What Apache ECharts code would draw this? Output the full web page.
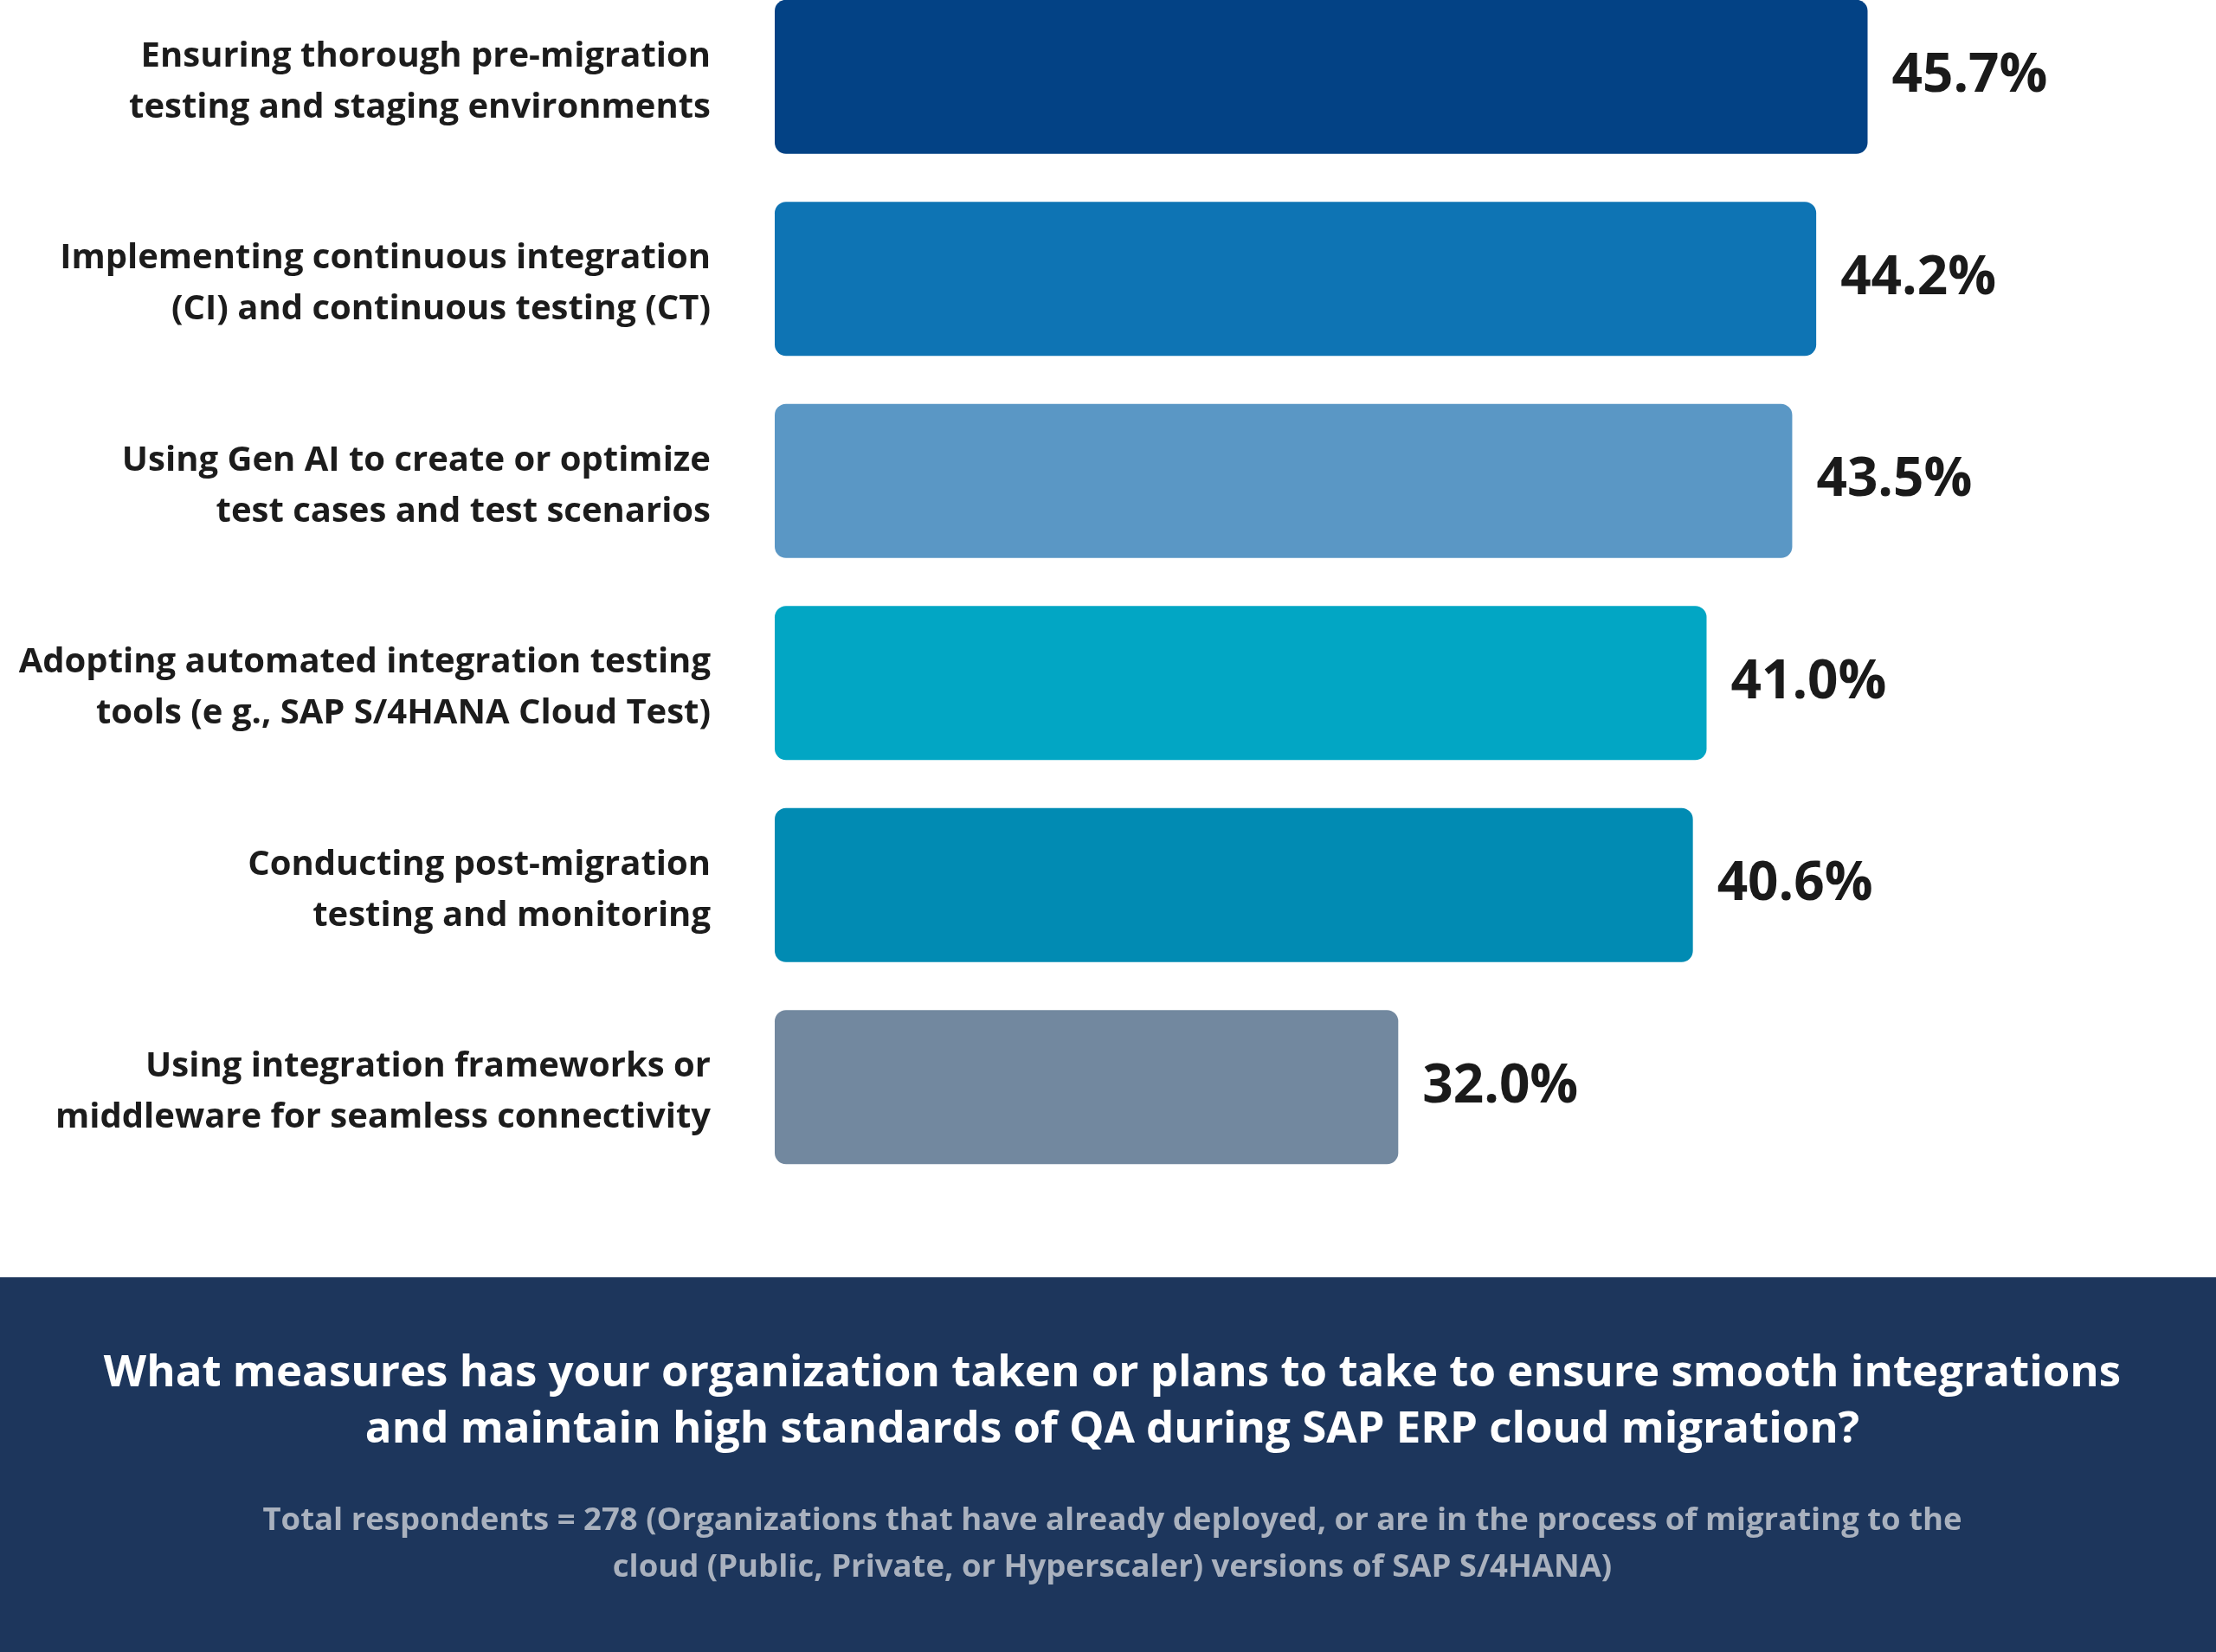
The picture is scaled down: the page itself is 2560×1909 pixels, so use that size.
<!DOCTYPE html>
<html>
<head>
<meta charset="utf-8">
<script src="https://cdn.jsdelivr.net/npm/echarts@6/dist/echarts.min.js"></script>
<style>
html,body{margin:0;padding:0;background:#ffffff;}
#chart{width:2560px;height:1909px;}
</style>
</head>
<body>
<div id="chart"></div>
<script>
const categories = [
  "Ensuring thorough pre-migration\ntesting and staging environments",
  "Implementing continuous integration\n(CI) and continuous testing (CT)",
  "Using Gen AI to create or optimize\ntest cases and test scenarios",
  "Adopting automated integration testing\ntools (e g., SAP S/4HANA Cloud Test)",
  "Conducting post-migration\ntesting and monitoring",
  "Using integration frameworks or\nmiddleware for seamless connectivity"
];
const values = [45.7, 44.2, 43.5, 41.0, 40.6, 32.0];
const barColors = ["#034285", "#0e74b4", "#5a97c5", "#02a6c4", "#018bb3", "#72889f"];
const titleText = "What measures has your organization taken or plans to take to ensure smooth integrations\nand maintain high standards of QA during SAP ERP cloud migration?";
const subText = "Total respondents = 278 (Organizations that have already deployed, or are in the process of migrating to the\ncloud (Public, Private, or Hyperscaler) versions of SAP S/4HANA)";

const chart = echarts.init(document.getElementById('chart'), null, {renderer: 'canvas'});
const font = "'Open Sans', 'Noto Sans', sans-serif";
const catStyle = {color: '#1c1c1c', fontFamily: font, fontWeight: 'bold', fontSize: 40, lineHeight: 59};
chart.setOption({
  animation: false,
  backgroundColor: '#ffffff',
  graphic: [{
    type: 'rect',
    z: -1,
    shape: {x: 0, y: 1476, width: 2560, height: 433},
    style: {fill: '#1d365c'}
  }],
  title: {
    text: titleText,
    subtext: subText,
    left: 1280,
    top: 1550,
    textAlign: 'center',
    itemGap: 46,
    textStyle: {
      color: '#ffffff', fontFamily: font, fontWeight: 'bold',
      fontSize: 51, lineHeight: 65
    },
    subtextStyle: {
      color: '#a9b1be', fontFamily: font, fontWeight: 'bold',
      fontSize: 36.5, lineHeight: 54
    }
  },
  grid: {left: 895, top: -28, height: 1401, width: 1591, outerBoundsMode: 'none', containLabel: false},
  xAxis: {
    type: 'value', min: 13.8, max: 54,
    show: false
  },
  yAxis: {
    type: 'category',
    data: categories,
    inverse: true,
    axisLine: {show: false},
    axisTick: {show: false},
    splitLine: {show: false},
    axisLabel: Object.assign({
      margin: 74,
      align: 'right',
      formatter: function (v) {
        const parts = v.split('\n');
        return '{t|' + parts[0] + '}\n{t|' + parts[1] + '}';
      },
      rich: {
        t: Object.assign({padding: [12, 0, 0, 0]}, catStyle)
      }
    }, catStyle)
  },
  series: [{
    type: 'bar',
    barWidth: 178,
    data: values.map((v, i) => ({value: v, itemStyle: {color: barColors[i]}})),
    itemStyle: {borderRadius: 13},
    label: {
      show: true,
      position: 'right',
      distance: 28,
      formatter: p => p.value.toFixed(1) + '%',
      color: '#1a1a1a',
      fontFamily: font,
      fontWeight: 'bold',
      fontSize: 62
    }
  }]
});
</script>
</body>
</html>
